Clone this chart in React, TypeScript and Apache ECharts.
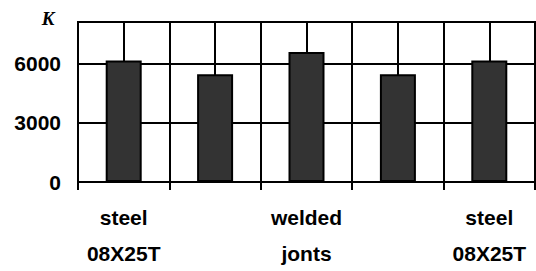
import React, { useEffect, useRef } from "react";
import * as echarts from "echarts";

const categories = ["steel\n08X25T", "", "welded\njonts", "", "steel\n08X25T"];
const values = [6150, 5450, 6580, 5450, 6150];
const yTicks = [0, 3000, 6000];
const yAxisName = "K";

export default function App() {
  const ref = useRef<HTMLDivElement>(null);
  useEffect(() => {
    document.body.style.margin = "0";
    const chart = echarts.init(ref.current!, undefined, { renderer: "svg" });
    const font = '"Liberation Sans", Arial, sans-serif';
    chart.setOption({
      animation: false,
      backgroundColor: "#fff",
      grid: {
        left: 78,
        right: 1,
        top: 22,
        bottom: 82,
        show: true,
        borderColor: "#000",
        borderWidth: 2,
        backgroundColor: "transparent",
      },
      xAxis: [
        {
          type: "category",
          data: categories,
          boundaryGap: true,
          axisLine: { show: true, lineStyle: { color: "#000", width: 2 } },
          axisTick: { show: true, length: 8, lineStyle: { color: "#000", width: 2 } },
          axisLabel: {
            interval: 0,
            color: "#000",
            fontFamily: font,
            fontWeight: "bold",
            fontSize: 21,
            lineHeight: 36,
            margin: 17,
          },
          splitLine: { show: true, lineStyle: { color: "#000", width: 2 } },
          z: 1,
        },
        {
          type: "value",
          min: 0,
          max: categories.length * 2,
          interval: 1,
          position: "top",
          axisLine: { show: false },
          axisTick: { show: false },
          axisLabel: { show: false },
          splitLine: { show: true, lineStyle: { color: "#000", width: 2 } },
        },
      ],
      yAxis: {
        type: "value",
        min: yTicks[0],
        max: 8100,
        interval: 3000,
        axisLine: { show: true, lineStyle: { color: "#000", width: 2 } },
        axisTick: { show: false },
        axisLabel: {
          color: "#000",
          fontFamily: font,
          fontWeight: "bold",
          fontSize: 21,
          margin: 17,
          showMaxLabel: false,
          formatter: (v: number) => (yTicks.includes(v) ? String(v) : ""),
        },
        splitLine: { show: true, lineStyle: { color: "#000", width: 2 } },
      },
      graphic: [
        {
          type: "text",
          x: 48,
          y: 18,
          style: {
            text: yAxisName,
            font: 'italic bold 19px "Liberation Serif", "Times New Roman", serif',
            fill: "#000",
            align: "center",
            verticalAlign: "middle",
          },
        },
      ],
      series: [
        {
          type: "bar",
          xAxisIndex: 0,
          data: values,
          barWidth: 36,
          itemStyle: { color: "#333333", borderColor: "#000", borderWidth: 2 },
          z: 5,
        },
      ],
    });
    return () => chart.dispose();
  }, []);
  return <div ref={ref} style={{ width: 536, height: 271 }} />;
}
